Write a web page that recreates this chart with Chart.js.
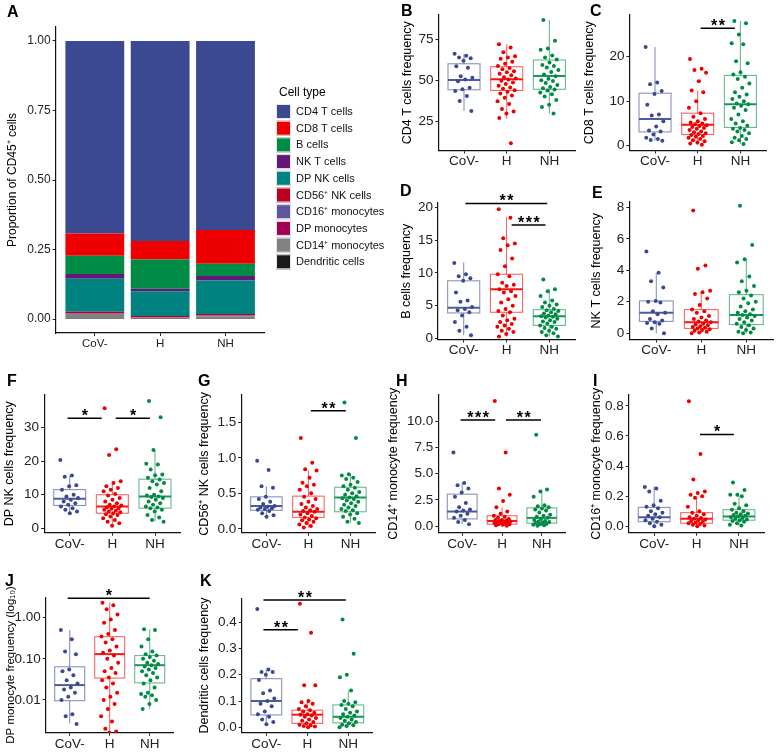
<!DOCTYPE html>
<html>
<head>
<meta charset="utf-8">
<script src="https://cdn.jsdelivr.net/npm/chart.js@4.4.1/dist/chart.umd.min.js"></script>
<style>
  html, body { margin: 0; padding: 0; background: #fff; }
  body { width: 779px; height: 752px; position: relative; overflow: hidden; font-family: "Liberation Sans", Arial, sans-serif; }
  .pn { position: absolute; }
  .lt { position: absolute; font: bold 16px/16px "Liberation Sans", Arial, sans-serif; color: #000; }
</style>
</head>
<body>
<script>
/* Immune cell frequencies: stacked proportions (A) + boxplots per group (B–K). */
const FONT = '"Liberation Sans", Arial, sans-serif';

const groups = ['CoV-', 'H', 'NH'];
const groupColors = ['#3B4992', '#EE0000', '#008B45'];

// Panel A — proportions of CD45+ cells (legend order, top of the stack first)
const cellTypes = ['CD4 T cells', 'CD8 T cells', 'B cells', 'NK T cells', 'DP NK cells', 'CD56⁺ NK cells',
  'CD16⁺ monocytes', 'DP monocytes', 'CD14⁺ monocytes', 'Dendritic cells'];
const cellColors = ['#3B4992', '#EE0000', '#008B45', '#631879', '#008280', '#BB0021', '#5F559B', '#A20056', '#808180', '#1B1919'];
const propCoV = [0.692, 0.080, 0.066, 0.017, 0.119, 0.005, 0.002, 0.001, 0.017, 0.001];
const propH   = [0.719, 0.067, 0.105, 0.009, 0.089, 0.004, 0.001, 0.001, 0.004, 0.001];
const propNH  = [0.680, 0.121, 0.044, 0.016, 0.121, 0.005, 0.002, 0.001, 0.009, 0.001];
const propTicks = [0, 0.25, 0.5, 0.75, 1];
const propTickLabels = ['0.00', '0.25', '0.50', '0.75', '1.00'];

// Panel B — CD4 T cells
const cd4CoV = [66.3, 65.1, 64.0, 63.5, 62.1, 58.7, 57.7, 52.6, 51.6, 50.6, 49.5, 45.6, 44.6, 43.5, 40.5, 37.5, 31.4];
const cd4H = [72.2, 70.1, 67.3, 64.8, 64.0, 63.2, 61.5, 60.2, 58.9, 57.6, 56.8, 55.7, 55.0, 54.1, 53.2, 52.0, 51.2, 50.6,
  49.8, 48.7, 47.9, 46.8, 45.7, 44.9, 44.0, 43.1, 42.0, 40.8, 39.5, 37.3, 35.6, 32.5, 31.0, 29.8, 27.0, 11.6];
const cd4NH = [86.9, 74.2, 69.5, 68.8, 65.3, 64.1, 62.8, 61.0, 59.5, 58.8, 57.9, 56.4, 55.2, 53.7, 52.6, 51.0, 50.1, 49.6,
  48.5, 47.2, 46.0, 45.2, 44.5, 43.8, 42.7, 41.6, 40.2, 38.0, 35.1, 33.8, 29.8];
const cd4Box = [[31.4, 44.3, 50.3, 60.2, 66.3], [26.4, 43.9, 50.8, 58.4, 72.2], [29.8, 44.6, 52.8, 62.5, 86.9]];
const cd4Ticks = [25, 50, 75];

// Panel C — CD8 T cells
const cd8CoV = [22.2, 14.2, 13.8, 12.3, 11.6, 9.2, 7.0, 6.8, 5.5, 4.3, 3.4, 3.2, 2.5, 1.8, 1.5, 1.3, 1.1];
const cd8H = [19.5, 17.3, 17.0, 16.4, 14.5, 12.4, 12.0, 10.0, 8.5, 7.3, 6.5, 6.0, 5.5, 5.2, 5.0, 4.8, 4.6, 4.4, 4.2, 4.0,
  3.8, 3.5, 3.2, 3.0, 2.8, 2.6, 2.4, 2.2, 2.0, 1.8, 1.5, 1.2, 1.0, 0.7, 0.5, 0.2];
const cd8NH = [28.0, 27.5, 25.0, 23.0, 22.8, 19.0, 18.5, 16.5, 16.0, 15.5, 15.0, 14.0, 13.0, 12.0, 11.5, 11.0, 10.5, 10.0,
  9.5, 9.3, 9.0, 8.5, 8.0, 7.0, 6.0, 5.5, 5.0, 4.5, 4.0, 3.8, 3.5, 3.2, 2.8, 2.2, 1.8, 1.5, 1.2, 0.8, 0.4];
const cd8Box = [[1.1, 3.1, 6.0, 11.8, 22.2], [0.2, 2.5, 4.7, 7.3, 12.4], [0.4, 4.1, 9.3, 15.8, 28.0]];
const cd8Ticks = [0, 10, 20];
const cd8Sig = [[1.07, 1.87, 26.4, '**']];

// Panel D — B cells
const bCoV = [11.5, 9.8, 9.5, 9.2, 8.8, 7.0, 5.8, 5.6, 4.8, 4.5, 4.3, 4.0, 3.5, 2.5, 1.8, 1.2, 0.5];
const bH = [19.7, 18.4, 15.3, 14.5, 14.2, 13.5, 12.2, 11.0, 9.8, 9.5, 8.5, 8.2, 8.0, 7.5, 7.2, 7.0, 6.5, 6.0, 5.5, 5.0,
  4.5, 4.2, 4.0, 3.5, 3.0, 2.8, 2.5, 2.2, 2.0, 1.8, 1.5, 1.2, 1.0, 0.7, 0.3];
const bNH = [9.0, 7.5, 7.2, 6.5, 5.8, 5.5, 5.2, 5.0, 4.8, 4.5, 4.3, 4.2, 4.0, 3.8, 3.7, 3.5, 3.4, 3.3, 3.2, 3.0, 2.8, 2.6,
  2.5, 2.3, 2.0, 1.8, 1.6, 1.5, 1.2, 1.0, 0.8, 0.5, 0.3];
const bBox = [[0.5, 3.9, 4.7, 8.8, 11.6], [0.3, 4.0, 7.5, 9.8, 18.5], [0.3, 2.0, 3.4, 4.4, 7.5]];
const bTicks = [0, 5, 10, 15, 20];
const bSig = [[0.04, 1.95, 20.6, '**'], [1.12, 1.91, 17.3, '***']];

// Panel E — NK T cells
const nktCoV = [5.2, 3.85, 3.3, 2.9, 2.05, 2.0, 1.95, 1.4, 1.3, 1.2, 0.9, 0.8, 0.7, 0.65, 0.6, 0.3, 0.0];
const nktH = [7.8, 4.3, 4.1, 2.7, 2.6, 2.5, 2.2, 1.8, 1.5, 1.4, 1.3, 1.1, 1.0, 0.9, 0.8, 0.75, 0.7, 0.6, 0.55, 0.5, 0.45,
  0.4, 0.35, 0.3, 0.25, 0.2, 0.15, 0.1, 0.05, 0.0];
const nktNH = [8.1, 5.6, 4.7, 4.5, 3.6, 3.3, 3.0, 2.7, 2.6, 2.4, 2.2, 2.0, 1.9, 1.7, 1.5, 1.4, 1.3, 1.2, 1.15, 1.1, 1.0,
  0.9, 0.8, 0.7, 0.6, 0.5, 0.4, 0.3, 0.2, 0.1, 0.05, 0.0];
const nktBox = [[0.0, 0.75, 1.3, 2.05, 3.85], [0.0, 0.3, 0.7, 1.5, 2.6], [0.0, 0.55, 1.15, 2.45, 4.7]];
const nktTicks = [0, 2, 4, 6, 8];

// Panel F — DP NK cells
const dpnkCoV = [20.3, 15.7, 15.3, 12.8, 12.5, 11.5, 10.0, 9.5, 9.0, 8.5, 8.0, 7.5, 7.0, 6.5, 6.0, 5.5, 5.0, 4.5];
const dpnkH = [35.7, 23.5, 21.8, 14.0, 13.5, 12.5, 12.0, 11.5, 11.0, 10.2, 9.8, 9.0, 8.5, 8.0, 7.5, 7.0, 6.8, 6.5, 6.3,
  6.0, 5.8, 5.5, 5.2, 5.0, 4.8, 4.5, 4.2, 4.0, 3.5, 3.0, 2.5, 2.0, 1.5, 0.8];
const dpnkNH = [37.8, 33.0, 23.3, 19.2, 19.0, 17.5, 16.0, 15.8, 15.0, 14.5, 14.0, 13.5, 13.0, 12.0, 11.0, 10.0, 9.8, 9.5,
  9.3, 9.0, 8.5, 8.0, 7.5, 7.0, 6.5, 6.2, 6.0, 5.5, 5.0, 4.0, 3.2, 2.5, 2.0];
const dpnkBox = [[4.5, 6.8, 8.8, 11.5, 15.6], [0.7, 4.5, 6.5, 10.0, 14.1], [2.0, 6.0, 9.5, 14.6, 23.3]];
const dpnkTicks = [0, 10, 20, 30];
const dpnkSig = [[-0.05, 0.75, 32.7, '*'], [1.08, 1.88, 32.7, '*']];

// Panel G — CD56+ NK cells
const cd56CoV = [0.96, 0.83, 0.60, 0.58, 0.45, 0.42, 0.38, 0.35, 0.32, 0.31, 0.30, 0.29, 0.28, 0.27, 0.25, 0.22, 0.19, 0.17];
const cd56H = [1.28, 0.93, 0.84, 0.82, 0.72, 0.65, 0.62, 0.60, 0.55, 0.50, 0.45, 0.42, 0.38, 0.35, 0.32, 0.30, 0.28, 0.26,
  0.25, 0.24, 0.22, 0.20, 0.18, 0.16, 0.15, 0.13, 0.12, 0.10, 0.08, 0.06, 0.04, 0.02];
const cd56NH = [1.78, 1.28, 0.77, 0.75, 0.72, 0.70, 0.66, 0.62, 0.60, 0.58, 0.55, 0.52, 0.50, 0.48, 0.46, 0.44, 0.43, 0.42,
  0.40, 0.38, 0.36, 0.34, 0.32, 0.30, 0.28, 0.26, 0.25, 0.22, 0.20, 0.17, 0.14, 0.10, 0.08];
const cd56Box = [[0.17, 0.26, 0.32, 0.45, 0.60], [0.02, 0.16, 0.24, 0.46, 0.82], [0.08, 0.24, 0.44, 0.585, 0.77]];
const cd56Ticks = [0, 0.5, 1.0, 1.5];
const cd56Sig = [[1.06, 1.89, 1.663, '**']];

// Panel H — CD14+ monocytes
const cd14CoV = [7.0, 4.1, 3.9, 3.6, 3.2, 2.8, 2.2, 1.8, 1.6, 1.5, 1.4, 1.2, 1.0, 0.8, 0.6, 0.4, 0.2];
const cd14H = [11.9, 7.0, 3.6, 3.0, 2.4, 1.8, 1.4, 1.2, 1.0, 0.9, 0.8, 0.7, 0.6, 0.6, 0.55, 0.5, 0.45, 0.4, 0.4, 0.35,
  0.3, 0.3, 0.25, 0.2, 0.2, 0.15, 0.1, 0.05];
const cd14NH = [8.7, 3.5, 3.3, 2.8, 2.0, 1.9, 1.8, 1.7, 1.6, 1.5, 1.3, 1.1, 1.0, 0.9, 0.8, 0.7, 0.6, 0.5, 0.45, 0.4, 0.35,
  0.3, 0.25, 0.2, 0.15, 0.1, 0.05];
const cd14Box = [[0.2, 0.7, 1.4, 3.05, 4.15], [0.05, 0.2, 0.5, 1.0, 1.8], [0.05, 0.3, 0.8, 1.75, 3.5]];
const cd14Ticks = [0, 2.5, 5.0, 7.5, 10.0];
const cd14Sig = [[-0.04, 0.83, 10.1, '***'], [1.1, 1.98, 10.1, '**']];

// Panel I — CD16+ monocytes
const cd16CoV = [0.26, 0.25, 0.23, 0.17, 0.14, 0.13, 0.12, 0.10, 0.09, 0.08, 0.07, 0.06, 0.05, 0.04, 0.03, 0.02, 0.01, 0.0];
const cd16H = [0.83, 0.48, 0.31, 0.23, 0.22, 0.21, 0.20, 0.19, 0.13, 0.10, 0.09, 0.08, 0.07, 0.06, 0.055, 0.05, 0.045,
  0.04, 0.035, 0.03, 0.025, 0.02, 0.015, 0.01, 0.005, 0.0];
const cd16NH = [0.29, 0.24, 0.21, 0.21, 0.20, 0.15, 0.14, 0.12, 0.11, 0.10, 0.09, 0.085, 0.08, 0.075, 0.07, 0.065, 0.06,
  0.055, 0.05, 0.045, 0.04, 0.035, 0.03, 0.02, 0.01, 0.005];
const cd16Box = [[0.0, 0.03, 0.06, 0.125, 0.265], [0.0, 0.02, 0.05, 0.09, 0.19], [0.005, 0.04, 0.065, 0.11, 0.2]];
const cd16Ticks = [0, 0.2, 0.4, 0.6, 0.8];
const cd16Sig = [[1.08, 1.88, 0.61, '*']];

// Panel J — DP monocytes (log scale)
const dpmCoV = [0.5, 0.3, 0.15, 0.13, 0.055, 0.05, 0.04, 0.03, 0.025, 0.02, 0.018, 0.015, 0.012, 0.01, 0.0045, 0.004, 0.0026];
const dpmH = [2.3, 2.0, 1.6, 1.2, 0.9, 0.75, 0.5, 0.4, 0.35, 0.3, 0.25, 0.2, 0.16, 0.14, 0.12, 0.1, 0.08, 0.06, 0.05,
  0.045, 0.035, 0.03, 0.025, 0.02, 0.015, 0.012, 0.01, 0.008, 0.006, 0.004, 0.003, 0.002, 0.0017, 0.0016];
const dpmNH = [0.52, 0.5, 0.3, 0.2, 0.15, 0.13, 0.12, 0.11, 0.1, 0.09, 0.08, 0.075, 0.07, 0.065, 0.06, 0.055, 0.05,
  0.045, 0.04, 0.035, 0.03, 0.025, 0.02, 0.015, 0.014, 0.013, 0.012, 0.01, 0.008, 0.006];
const dpmBox = [[0.0027, 0.0096, 0.023, 0.064, 0.5], [0.0016, 0.034, 0.13, 0.345, 2.3], [0.006, 0.026, 0.07, 0.12, 0.52]];
const dpmTicks = [0.01, 0.1, 1];
const dpmTickLabels = ['0.01', '0.10', '1.00'];
const dpmSig = [[-0.05, 2.0, 2.96, '*']];

// Panel K — dendritic cells
const dcCoV = [0.45, 0.22, 0.21, 0.21, 0.20, 0.18, 0.14, 0.13, 0.11, 0.10, 0.09, 0.08, 0.06, 0.05, 0.04, 0.03, 0.02, 0.012];
const dcH = [0.47, 0.36, 0.16, 0.16, 0.10, 0.095, 0.09, 0.08, 0.07, 0.065, 0.06, 0.055, 0.05, 0.048, 0.045, 0.04, 0.035,
  0.03, 0.025, 0.02, 0.015, 0.01, 0.008, 0.005, 0.003, 0.0];
const dcNH = [0.41, 0.28, 0.20, 0.19, 0.14, 0.10, 0.095, 0.09, 0.085, 0.08, 0.07, 0.06, 0.055, 0.05, 0.045, 0.04, 0.035,
  0.03, 0.025, 0.02, 0.015, 0.01, 0.008, 0.005, 0.0];
const dcBox = [[0.012, 0.047, 0.10, 0.185, 0.22], [0.0, 0.015, 0.048, 0.065, 0.10], [0.0, 0.017, 0.04, 0.085, 0.14]];
const dcTicks = [0, 0.1, 0.2, 0.3, 0.4];
const dcSig = [[-0.07, 1.94, 0.485, '**'], [-0.07, 0.77, 0.371, '**']];

Chart.defaults.font.family = FONT;
Chart.defaults.color = '#222';
Chart.defaults.animation = false;

/* ── helpers ─────────────────────────────────────────────── */
function mount(id, box) {
  const wrap = document.createElement('div');
  wrap.className = 'pn';
  wrap.style.cssText = `left:${box[0]}px;top:${box[1]}px;width:${box[2]}px;height:${box[3]}px`;
  const cv = document.createElement('canvas');
  cv.id = id;
  wrap.appendChild(cv);
  document.body.appendChild(wrap);
  return cv;
}
function letter(txt, x, y) {
  const d = document.createElement('div');
  d.className = 'lt';
  d.style.left = x + 'px'; d.style.top = y + 'px';
  d.textContent = txt;
  document.body.appendChild(d);
}
// fixed, non-random horizontal spread of points (golden-ratio sequence)
const jitter = i => (((i * 0.6180339887) % 1) - 0.5) * 0.44;

const axisGrid = { display: true, drawOnChartArea: false, drawTicks: true, tickLength: 3, color: '#222', lineWidth: 1, offset: false };
const axisBorder = { display: true, color: '#111', width: 1.2 };

function boxPlugin(stats) {
  return {
    id: 'boxes',
    beforeDatasetsDraw(chart) {
      const { ctx, scales: { x, y } } = chart;
      const py = v => y.getPixelForValue(v);
      const seg = (x1, y1, x2, y2) => { ctx.beginPath(); ctx.moveTo(x1, y1); ctx.lineTo(x2, y2); ctx.stroke(); };
      stats.forEach((s, g) => {
        const [lo, q1, med, q3, hi] = s;
        const xc = x.getPixelForValue(g);
        const hw = x.getPixelForValue(g + 0.375) - xc;
        ctx.save();
        ctx.strokeStyle = groupColors[g];
        ctx.globalAlpha = 0.6; ctx.lineWidth = 1.1;
        seg(xc, py(hi), xc, py(q3));
        seg(xc, py(q1), xc, py(lo));
        ctx.strokeRect(xc - hw, py(q3), 2 * hw, py(q1) - py(q3));
        ctx.globalAlpha = 0.9; ctx.lineWidth = 2;
        seg(xc - hw, py(med), xc + hw, py(med));
        ctx.restore();
      });
    },
  };
}
function sigPlugin(sig) {
  return {
    id: 'sig',
    afterDraw(chart) {
      const { ctx, scales: { x, y } } = chart;
      (sig || []).forEach(([a, b, v, label]) => {
        const x1 = x.getPixelForValue(a), x2 = x.getPixelForValue(b), yy = y.getPixelForValue(v);
        ctx.save();
        ctx.strokeStyle = '#000'; ctx.lineWidth = 1.5;
        ctx.beginPath(); ctx.moveTo(x1, yy); ctx.lineTo(x2, yy); ctx.stroke();
        ctx.fillStyle = '#000';
        ctx.font = 'bold 16px ' + FONT;
        ctx.letterSpacing = '1.5px';
        ctx.textAlign = 'center'; ctx.textBaseline = 'alphabetic';
        ctx.fillText(label, (x1 + x2) / 2 + 1, yy + 3);
        ctx.restore();
      });
    },
  };
}

/* box: canvas rect on the page, plot: [left, top, right, bottom] of the panel on the page */
function boxPanel(o) {
  const [cx, cy, cw, ch] = o.box;
  const [l, t, r, b] = o.plot;
  const canvas = mount(o.id, o.box);
  const datasets = o.values.map((vals, g) => ({
    data: vals.map((v, i) => ({ x: g + jitter(i + g * 5), y: v })),
    backgroundColor: groupColors[g], borderWidth: 0, pointRadius: 2, pointHoverRadius: 2,
  }));
  const labels = o.tickLabels || o.ticks.map(v => String(v));
  return new Chart(canvas, {
    type: 'scatter',
    data: { datasets },
    options: {
      responsive: true, maintainAspectRatio: false, events: [],
      layout: { padding: { top: t - cy, right: cx + cw - r, left: 0, bottom: 0 } },
      plugins: { legend: { display: false }, tooltip: { enabled: false } },
      scales: {
        x: {
          type: 'linear', min: -0.6, max: 2.6, offset: false,
          afterBuildTicks: s => { s.ticks = groups.map((_, i) => ({ value: i })); },
          afterFit: s => { s.height = cy + ch - b; },
          grid: axisGrid, border: axisBorder,
          ticks: { callback: v => groups[v], color: '#222', font: { size: 13.5 }, padding: 0, maxRotation: 0, autoSkip: false },
        },
        y: {
          type: o.log ? 'logarithmic' : 'linear', min: o.min, max: o.max,
          afterBuildTicks: s => { s.ticks = o.ticks.map(v => ({ value: v })); },
          afterFit: s => { s.width = l - cx; },
          grid: axisGrid, border: axisBorder,
          ticks: { callback: (v, i) => labels[i], color: '#222', font: { size: 13.5 }, padding: 2, autoSkip: false },
          title: { display: true, text: o.title, color: '#000', font: { size: o.titleSize || 12.5 },
                   padding: { top: o.titleX - cx - 7.5, bottom: 0 } },
        },
      },
    },
    plugins: [boxPlugin(o.stats), sigPlugin(o.sig)],
  });
}

/* ── Panel A: stacked proportions ───────────────────────── */
const cellLegend = {
  id: 'cellLegend',
  afterDraw(chart) {
    const { ctx, chartArea } = chart;
    const x0 = chartArea.right + 11.3, y0 = chartArea.top + 77;
    ctx.save();
    ctx.textBaseline = 'middle';
    ctx.fillStyle = '#000';
    ctx.font = '12px ' + FONT;
    ctx.fillText('Cell type', x0 + 3, y0 - 11);
    ctx.font = '11px ' + FONT;
    cellTypes.forEach((name, k) => {
      const yy = y0 + k * 16.7;
      ctx.fillStyle = cellColors[k];
      ctx.fillRect(x0, yy, 15, 15);
      ctx.strokeStyle = '#e8e8e8'; ctx.lineWidth = 1;
      ctx.strokeRect(x0 + 0.5, yy + 0.5, 14, 14);
      ctx.fillStyle = '#111';
      ctx.fillText(name, x0 + 20, yy + 8);
    });
    ctx.restore();
  },
};
(function () {
  const box = [0, 0, 390, 360];
  const plot = [55.6, 27, 264.7, 333];
  const canvas = mount('chartA', box);
  const byGroup = [propCoV, propH, propNH];
  const datasets = cellTypes.map((name, k) => ({
    label: name,
    data: byGroup.map((arr, i) => ({ x: i, y: arr[k] })),
    backgroundColor: cellColors[k], borderWidth: 0,
    barPercentage: 0.9, categoryPercentage: 1,
  })).reverse();
  new Chart(canvas, {
    type: 'bar',
    data: { datasets },
    options: {
      responsive: true, maintainAspectRatio: false, events: [],
      layout: { padding: { top: plot[1] - box[1], right: box[0] + box[2] - plot[2], left: 0, bottom: 0 } },
      plugins: { legend: { display: false }, tooltip: { enabled: false } },
      scales: {
        x: {
          type: 'linear', min: -0.6, max: 2.6, offset: false, stacked: true,
          afterBuildTicks: s => { s.ticks = groups.map((_, i) => ({ value: i })); },
          afterFit: s => { s.height = box[1] + box[3] - plot[3]; },
          grid: axisGrid, border: axisBorder,
          ticks: { callback: v => groups[v], color: '#222', font: { size: 11.5 }, padding: 1, maxRotation: 0, autoSkip: false },
        },
        y: {
          min: -0.05, max: 1.05, stacked: true,
          afterBuildTicks: s => { s.ticks = propTicks.map(v => ({ value: v })); },
          afterFit: s => { s.width = plot[0] - box[0]; },
          grid: axisGrid, border: axisBorder,
          ticks: { callback: (v, i) => propTickLabels[i], color: '#222', font: { size: 12 }, padding: 2, autoSkip: false },
          title: { display: true, text: 'Proportion of CD45⁺ cells', color: '#000', font: { size: 12 },
                   padding: { top: 12.5 - 7.2, bottom: 0 } },
        },
      },
    },
    plugins: [cellLegend],
  });
})();

/* ── Panels B–K ─────────────────────────────────────────── */
boxPanel({ id: 'chartB', box: [385, 0, 195, 170], plot: [438.4, 15, 575, 150.5], min: 7.2, max: 90,
  ticks: cd4Ticks, title: 'CD4 T cells frequency', titleX: 407.5,
  values: [cd4CoV, cd4H, cd4NH], stats: cd4Box });
boxPanel({ id: 'chartC', box: [580, 0, 199, 170], plot: [629.4, 15, 766, 150.5], min: -1.08, max: 29.37,
  ticks: cd8Ticks, title: 'CD8 T cells frequency', titleX: 590,
  values: [cd8CoV, cd8H, cd8NH], stats: cd8Box, sig: cd8Sig });
boxPanel({ id: 'chartD', box: [385, 180, 195, 180], plot: [438, 203, 575, 339.5], min: -0.15, max: 20.66,
  ticks: bTicks, title: 'B cells frequency', titleX: 406.7,
  values: [bCoV, bH, bNH], stats: bBox, sig: bSig });
boxPanel({ id: 'chartE', box: [580, 180, 199, 180], plot: [629.3, 202, 773.3, 339.5], min: -0.4, max: 8.34,
  ticks: nktTicks, title: 'NK T cells frequency', titleX: 596.7,
  values: [nktCoV, nktH, nktNH], stats: nktBox });
boxPanel({ id: 'chartF', box: [0, 370, 195, 185], plot: [44.1, 395, 180.6, 532.7], min: -1.28, max: 39.6,
  ticks: dpnkTicks, title: 'DP NK cells frequency', titleX: 10,
  values: [dpnkCoV, dpnkH, dpnkNH], stats: dpnkBox, sig: dpnkSig });
boxPanel({ id: 'chartG', box: [195, 370, 188, 185], plot: [241.2, 395, 375.6, 532.7], min: -0.055, max: 1.885,
  ticks: cd56Ticks, tickLabels: ['0.0', '0.5', '1.0', '1.5'], title: 'CD56⁺ NK cells frequency', titleX: 205,
  values: [cd56CoV, cd56H, cd56NH], stats: cd56Box, sig: cd56Sig });
boxPanel({ id: 'chartH', box: [383, 370, 197, 185], plot: [438.3, 395, 565.7, 532.7], min: -0.61, max: 12.47,
  ticks: cd14Ticks, tickLabels: ['0.0', '2.5', '5.0', '7.5', '10.0'], title: 'CD14⁺ monocyte frequency', titleX: 394,
  values: [cd14CoV, cd14H, cd14NH], stats: cd14Box, sig: cd14Sig });
boxPanel({ id: 'chartI', box: [580, 370, 199, 185], plot: [628.7, 395, 764.4, 532.7], min: -0.043, max: 0.872,
  ticks: cd16Ticks, tickLabels: ['0.0', '0.2', '0.4', '0.6', '0.8'], title: 'CD16⁺ monocyte frequency', titleX: 597,
  values: [cd16CoV, cd16H, cd16NH], stats: cd16Box, sig: cd16Sig });
boxPanel({ id: 'chartJ', box: [0, 570, 195, 182], plot: [45.7, 597.3, 173.7, 732.7], min: 0.0016, max: 3.13, log: true,
  ticks: dpmTicks, tickLabels: dpmTickLabels, title: 'DP monocyte frequency (log₁₀)', titleX: 11, titleSize: 11.5,
  values: [dpmCoV, dpmH, dpmNH], stats: dpmBox, sig: dpmSig });
boxPanel({ id: 'chartK', box: [195, 570, 188, 182], plot: [241.7, 598.3, 372.9, 732.7], min: -0.0206, max: 0.491,
  ticks: dcTicks, tickLabels: ['0.0', '0.1', '0.2', '0.3', '0.4'], title: 'Dendritic cells frequency', titleX: 204.3,
  values: [dcCoV, dcH, dcNH], stats: dcBox, sig: dcSig });

/* panel letters */
[['A', 7, 4], ['B', 401, 3], ['C', 590, 3], ['D', 400, 183], ['E', 592, 185], ['F', 7, 373], ['G', 198, 373],
 ['H', 396, 373], ['I', 593, 373], ['J', 5, 573], ['K', 200, 573]].forEach(([t, x, y]) => letter(t, x, y));
</script>
</body>
</html>
